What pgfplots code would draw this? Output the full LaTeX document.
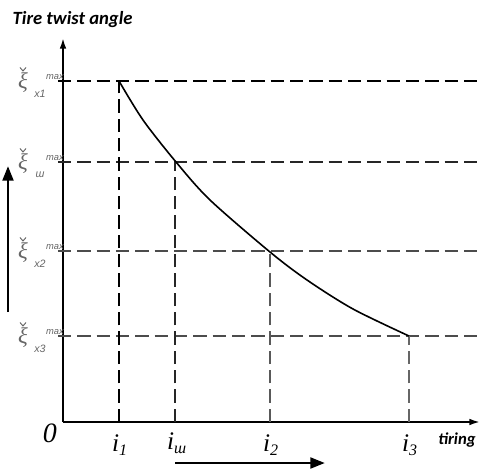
\documentclass[border=0pt]{standalone}
\usepackage{fontspec}
\setmainfont{Liberation Serif}
\newfontfamily\titlefont{Carlito}
\newfontfamily\lblfont{Liberation Sans}
\usepackage{pgfplots}
\pgfplotsset{compat=1.18}
\usetikzlibrary{arrows.meta}

% 1 unit = 1 reference pixel, origin at the axes' corner
\newcommand{\ilab}[1]{\textit{i}\textsubscript{\fontsize{12}{12}\selectfont\itshape #1}}
% y-level label: xi with a check mark, "max" above right, index below right
\newcommand{\ylab}[2]{%
  \node[text=black!60, font=\itshape\fontsize{17}{17}\selectfont, inner sep=0pt] at (axis cs:-40,#1-2) {ξ};
  \draw[black!60, line width=0.7pt] (axis cs:-43,#1+13.5) -- (axis cs:-40,#1+10) -- (axis cs:-37,#1+13.5);
  \node[text=black!60, font=\lblfont\itshape\fontsize{7}{7}\selectfont, inner sep=0pt] at (axis cs:-8,#1+4) {max};
  \node[text=black!60, font=\lblfont\itshape\fontsize{8}{8}\selectfont, inner sep=0pt] at (axis cs:-23,#1-13) {#2};
}

\begin{document}
\begin{tikzpicture}
\begin{axis}[
  scale only axis,
  width=312.75pt, height=288pt,
  xmin=0, xmax=417, ymin=0, ymax=384,
  axis lines=left,
  axis line style={line width=1.4pt, -{Latex[length=8pt,width=5pt]}},
  xtick=\empty, ytick=\empty,
  clip=false,
]
% horizontal guide lines
\addplot[black, line width=0.8pt, dash pattern=on 10pt off 4.5pt] coordinates {(-5,341) (415,341)};
\addplot[black!85, line width=0.8pt, dash pattern=on 10pt off 4.5pt] coordinates {(-5,260) (415,260)};
\addplot[black!70, line width=0.8pt, dash pattern=on 10pt off 4.5pt] coordinates {(-5,171) (415,171)};
\addplot[black!70, line width=0.8pt, dash pattern=on 10pt off 4.5pt] coordinates {(-5,86) (415,86)};
% vertical guide lines
\addplot[black, line width=0.8pt, dash pattern=on 10pt off 4.5pt] coordinates {(56,0) (56,341)};
\addplot[black!85, line width=0.8pt, dash pattern=on 10pt off 4.5pt] coordinates {(112,0) (112,260)};
\addplot[black!65, line width=0.8pt, dash pattern=on 10pt off 4.5pt] coordinates {(207,0) (207,171)};
\addplot[black!60, line width=0.8pt, dash pattern=on 10pt off 4.5pt] coordinates {(346,0) (346,86)};
% curve
\addplot[black, line width=1.2pt, smooth] coordinates {
  (56,341) (80,302) (113,260) (147,222) (207,170) (244,142) (290,113) (346,86)
};

% labels
\ylab{341}{x1}
\ylab{260}{ш}
\ylab{171}{x2}
\ylab{86}{x3}

\node[font=\fontsize{21}{21}\selectfont\itshape] at (axis cs:-13,-11) {0};
\node[font=\fontsize{19}{19}\selectfont] at (axis cs:57,-23) {\ilab{1}};
\node[font=\fontsize{19}{19}\selectfont] at (axis cs:114,-21) {\ilab{ш}};
\node[font=\fontsize{19}{19}\selectfont] at (axis cs:208,-23) {\ilab{2}};
\node[font=\fontsize{19}{19}\selectfont] at (axis cs:347,-23) {\ilab{3}};
\node[font=\titlefont\bfseries\itshape\fontsize{12.5}{12.5}\selectfont] at (axis cs:394,-18) {tiring};
\node[anchor=west, font=\titlefont\bfseries\itshape\fontsize{14}{14}\selectfont] at (axis cs:-55,402) {Tire twist angle};

% direction arrows
\draw[line width=2.2pt, -{Triangle[length=11pt,width=8pt]}] (axis cs:-55,110) -- (axis cs:-55,256);
\draw[line width=2.2pt, -{Triangle[length=11pt,width=8pt]}] (axis cs:112,-41) -- (axis cs:262,-41);

\coordinate (bl) at (axis cs:-63,-46);
\coordinate (tr) at (axis cs:418,422);
\end{axis}
\pgfresetboundingbox
\path (bl) rectangle (tr);
\end{tikzpicture}
\end{document}
